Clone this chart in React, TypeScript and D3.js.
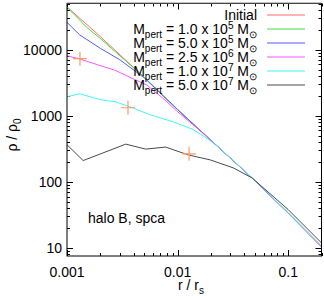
import React, { useEffect, useRef } from "react";
import * as d3 from "d3";

// r / r_s and rho / rho_0
const initialCurve: [number, number][] = [
  [0.001, 44400], [0.002, 15800], [0.005, 3800], [0.01, 1240], [0.02, 425],
  [0.047, 115], [0.1, 34], [0.2, 10.7],
];
const pert1e5: [number, number][] = [
  [0.001, 44000], [0.0015, 22000], [0.002, 14800], [0.005, 3820], [0.01, 1250],
  [0.02, 428], [0.047, 115], [0.1, 34], [0.2, 10.5],
];
const pert5e5: [number, number][] = [
  [0.001, 25900], [0.0013, 16800], [0.002, 10500], [0.003, 7050], [0.005, 3750],
  [0.01, 1235], [0.02, 425], [0.047, 115], [0.1, 33.5], [0.2, 10.4],
];
const pert2_5e6: [number, number][] = [
  [0.001, 8100], [0.00128, 7300], [0.0019, 5900], [0.0027, 4900], [0.0038, 3750],
  [0.0053, 2900], [0.0075, 1800], [0.01, 1150], [0.015, 650], [0.02, 423],
  [0.047, 115], [0.1, 33.5], [0.2, 10.3],
];
const pert1e7: [number, number][] = [
  [0.001, 1940], [0.00131, 2150], [0.002, 1750], [0.00273, 1630], [0.0037, 1370],
  [0.0056, 1040], [0.0091, 810], [0.0138, 620], [0.019, 440], [0.025, 305],
  [0.047, 116], [0.1, 34], [0.2, 10.4],
];
const pert5e7: [number, number][] = [
  [0.001, 364], [0.0014, 210], [0.0034, 372], [0.00515, 313], [0.0078, 336],
  [0.01245, 256], [0.0197, 215], [0.0318, 163], [0.047, 115], [0.1, 38], [0.2, 11.9],
];
const markers: [number, number][] = [
  [0.00131, 7310], [0.00356, 1322], [0.0127, 266],
];

const series = [
  { data: initialCurve, color: "#ff6a6a", mass: "", exp: "" },
  { data: pert1e5, color: "#3fe03f", mass: "1.0", exp: "5" },
  { data: pert5e5, color: "#5a5aff", mass: "5.0", exp: "5" },
  { data: pert2_5e6, color: "#ff55ff", mass: "2.5", exp: "6" },
  { data: pert1e7, color: "#45f5f5", mass: "1.0", exp: "7" },
  { data: pert5e7, color: "#4a4a4a", mass: "5.0", exp: "7" },
];

const xTicks = [0.001, 0.01, 0.1];
const yTicks = [10, 100, 1000, 10000];

const App = () => {
  const svgRef = useRef<SVGSVGElement | null>(null);

  useEffect(() => {
    const width = 324;
    const height = 296;
    const left = 67, right = 321.5, top = 3.5, bottom = 256;
    const font = "'Liberation Sans', Arial, sans-serif";

    const svg = d3.select(svgRef.current);
    svg.selectAll("*").remove();
    svg.attr("width", width).attr("height", height);

    const x = d3.scaleLog().domain([0.001, 0.2]).range([left, right]);
    const y = d3.scaleLog().domain([7.55, 50000]).range([bottom, top]);

    svg.append("defs").append("clipPath").attr("id", "plotclip")
      .append("rect").attr("x", left).attr("y", top)
      .attr("width", right - left).attr("height", bottom - top);

    // ticks (inward, mirrored)
    const tg = svg.append("g").attr("stroke", "#000").attr("stroke-width", 1);
    for (let e = -3; e <= -1; e++) {
      for (let m = 1; m <= 9; m++) {
        const v = m * Math.pow(10, e);
        if (v > 0.2) continue;
        const px = Math.round(x(v)) + 0.5;
        const len = m === 1 ? 6 : 3;
        tg.append("line").attr("x1", px).attr("x2", px).attr("y1", bottom).attr("y2", bottom - len);
        tg.append("line").attr("x1", px).attr("x2", px).attr("y1", top).attr("y2", top + len);
      }
    }
    for (let e = 0; e <= 4; e++) {
      for (let m = 1; m <= 9; m++) {
        const v = m * Math.pow(10, e);
        if (v < 7.55 || v > 50000) continue;
        const py = Math.round(y(v)) + 0.5;
        const len = m === 1 ? 6 : 3;
        tg.append("line").attr("x1", left).attr("x2", left + len).attr("y1", py).attr("y2", py);
        tg.append("line").attr("x1", right).attr("x2", right - len).attr("y1", py).attr("y2", py);
      }
    }

    // curves
    const line = d3.line<[number, number]>().x((d) => x(d[0])).y((d) => y(d[1]));
    const cg = svg.append("g").attr("clip-path", "url(#plotclip)");
    series.forEach((s) => {
      cg.append("path").attr("d", line(s.data)).attr("fill", "none")
        .attr("stroke", s.color).attr("stroke-width", 1);
    });

    // core radius markers
    markers.forEach(([mx, my]) => {
      const px = x(mx), py = y(my);
      cg.append("path").attr("d", `M${px - 7},${py}H${px + 7}M${px},${py - 7}V${py + 7}`)
        .attr("stroke", "#ff9a6a").attr("stroke-width", 1.2);
    });

    // frame
    svg.append("rect").attr("x", left).attr("y", top)
      .attr("width", right - left).attr("height", bottom - top)
      .attr("fill", "none").attr("stroke", "#000").attr("stroke-width", 1);
    svg.append("line").attr("x1", left).attr("x2", right).attr("y1", top - 0.5).attr("y2", top - 0.5)
      .attr("stroke", "#888").attr("stroke-width", 1);

    // tick labels
    xTicks.forEach((t) => {
      svg.append("text").attr("x", x(t)).attr("y", 277).attr("text-anchor", "middle")
        .attr("font-family", font).attr("font-size", 14).text(String(t));
    });
    yTicks.forEach((t) => {
      svg.append("text").attr("x", 62).attr("y", y(t) + 5).attr("text-anchor", "end")
        .attr("font-family", font).attr("font-size", 14).text(String(t));
    });

    // axis titles
    const xl = svg.append("text").attr("x", 178).attr("y", 290)
      .attr("font-family", font).attr("font-size", 14).text("r / r");
    xl.append("tspan").attr("dy", 4).attr("font-size", 10).text("s");

    const yl = svg.append("text").attr("transform", "translate(17,135) rotate(-90)")
      .attr("text-anchor", "middle").attr("font-family", font).attr("font-size", 14).text("ρ / ρ");
    yl.append("tspan").attr("dy", 4).attr("font-size", 10).text("0");

    svg.append("text").attr("x", 88).attr("y", 223).attr("font-family", font)
      .attr("font-size", 14).text("halo B, spca");

    // legend
    series.forEach((s, i) => {
      const ly = 15 + i * 14;
      svg.append("line").attr("x1", 267).attr("x2", 305).attr("y1", ly).attr("y2", ly)
        .attr("stroke", s.color).attr("stroke-width", 1);
      const t = svg.append("text").attr("x", 257).attr("y", ly + 5).attr("text-anchor", "end")
        .attr("font-family", font).attr("font-size", 14);
      if (!s.mass) {
        t.text("Initial");
        return;
      }
      t.append("tspan").text("M");
      t.append("tspan").attr("dy", 3.5).attr("font-size", 10).text("pert");
      t.append("tspan").attr("dy", -3.5).text(` = ${s.mass} x 10`);
      t.append("tspan").attr("dy", -5.5).attr("font-size", 10).text(s.exp);
      t.append("tspan").attr("dy", 5.5).text(" M");
      t.append("tspan").attr("dy", 3.5).attr("font-size", 10).text("⊙");
    });
  }, []);

  return <svg ref={svgRef} style={{ position: "absolute", left: 0, top: 0 }} />;
};

export default App;
